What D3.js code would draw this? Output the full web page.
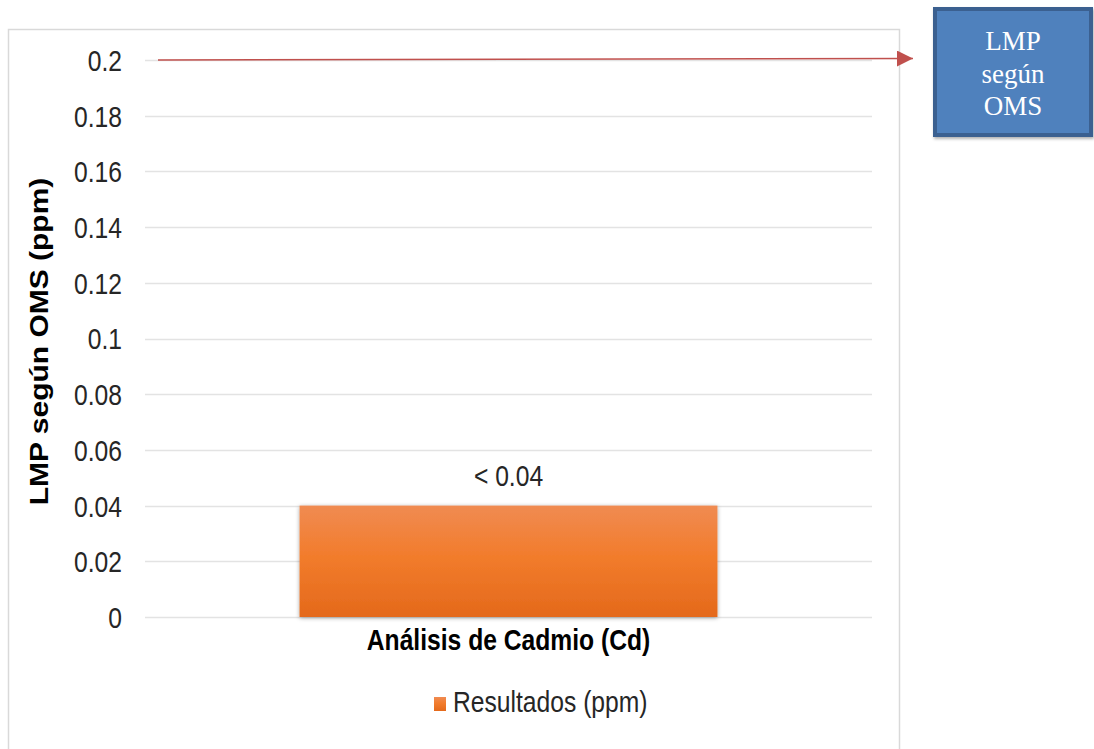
<!DOCTYPE html>
<html>
<head>
<meta charset="utf-8">
<script src="https://cdn.jsdelivr.net/npm/d3@7"></script>
<style>
  html, body { margin: 0; padding: 0; background: #fff; }
  svg { display: block; font-family: "Liberation Sans", Arial, sans-serif; }
</style>
</head>
<body>
<svg id="chart" width="1094" height="749"></svg>
<script>
// Data
const categories = ["Análisis de Cadmio (Cd)"];
const resultValues = [0.04];
const resultLabels = ["< 0.04"];
const limitValue = 0.2;
const limitLabel = ["LMP", "según", "OMS"];
const yTicks = [0, 0.02, 0.04, 0.06, 0.08, 0.1, 0.12, 0.14, 0.16, 0.18, 0.2];
const seriesName = "Resultados (ppm)";
const yTitle = "LMP según OMS (ppm)";

// Text is drawn tall and slightly condensed
const FONT = 29;
const SX = 0.85;

const svg = d3.select("#chart");

// Outer chart frame
svg.append("rect")
  .attr("x", 8.5).attr("y", 29.5)
  .attr("width", 891).attr("height", 740)
  .attr("fill", "#fff")
  .attr("stroke", "#d9d9d9").attr("stroke-width", 1.5);

const plot = { left: 145, right: 872, top: 60, bottom: 617 };

const x = d3.scaleBand()
  .domain(categories)
  .range([plot.left, plot.right])
  .paddingInner(0.27).paddingOuter(0.27);

const y = d3.scaleLinear()
  .domain([0, 0.2])
  .range([plot.bottom, plot.top]);

// Gridlines
svg.append("g")
  .selectAll("line")
  .data(yTicks)
  .join("line")
  .attr("x1", plot.left).attr("x2", plot.right)
  .attr("y1", d => Math.round(y(d)) + 0.5)
  .attr("y2", d => Math.round(y(d)) + 0.5)
  .attr("stroke", "#e3e3e3").attr("stroke-width", 1.5);

// Y axis tick labels
const yAxis = d3.axisLeft(y)
  .tickValues(yTicks)
  .tickFormat(d => String(+d.toFixed(2)))
  .tickSize(0).tickPadding(0);
const gy = svg.append("g")
  .attr("transform", `translate(${plot.left - 23},0)`)
  .call(yAxis);
gy.select(".domain").remove();
gy.selectAll("text")
  .attr("x", 0)
  .attr("font-size", FONT)
  .attr("fill", "#262626")
  .attr("font-family", "'Liberation Sans', Arial, sans-serif")
  .attr("dy", "0.36em")
  .attr("transform", `scale(${SX},1)`);

// Y axis title
svg.append("text")
  .attr("transform", `translate(48, ${(plot.top + plot.bottom) / 2 + 3}) scale(${SX},1) rotate(-90)`)
  .attr("text-anchor", "middle")
  .attr("font-size", 30).attr("font-weight", "bold")
  .attr("fill", "#000")
  .text(yTitle);

// Bar gradient and shadow
const defs = svg.append("defs");
const grad = defs.append("linearGradient")
  .attr("id", "barGrad").attr("x1", 0).attr("y1", 0).attr("x2", 0).attr("y2", 1);
grad.append("stop").attr("offset", "0%").attr("stop-color", "#f08b52");
grad.append("stop").attr("offset", "45%").attr("stop-color", "#f27c2c");
grad.append("stop").attr("offset", "100%").attr("stop-color", "#e4691b");

const shadow = defs.append("filter").attr("id", "barShadow")
  .attr("x", "-5%").attr("y", "-10%").attr("width", "110%").attr("height", "125%");
shadow.append("feDropShadow")
  .attr("dx", 0).attr("dy", 1).attr("stdDeviation", 2)
  .attr("flood-color", "#000").attr("flood-opacity", 0.35);

svg.append("g")
  .selectAll("rect")
  .data(resultValues)
  .join("rect")
  .attr("x", (d, i) => x(categories[i]))
  .attr("y", d => y(d))
  .attr("width", x.bandwidth())
  .attr("height", d => y(0) - y(d))
  .attr("fill", "url(#barGrad)")
  .attr("filter", "url(#barShadow)");

// Value labels
svg.append("g")
  .selectAll("text")
  .data(resultValues)
  .join("text")
  .attr("transform", (d, i) =>
    `translate(${x(categories[i]) + x.bandwidth() / 2},${y(d) - 20}) scale(${SX},1)`)
  .attr("text-anchor", "middle")
  .attr("font-size", FONT).attr("fill", "#262626")
  .text((d, i) => resultLabels[i]);

// Category label
svg.append("g")
  .selectAll("text")
  .data(categories)
  .join("text")
  .attr("transform", d =>
    `translate(${x(d) + x.bandwidth() / 2},${plot.bottom + 33}) scale(${SX},1)`)
  .attr("text-anchor", "middle")
  .attr("font-size", FONT).attr("font-weight", "bold")
  .attr("fill", "#000")
  .text(d => d);

// Legend
const legend = svg.append("g").attr("transform", "translate(434, 697)");
legend.append("rect")
  .attr("width", 12).attr("height", 14)
  .attr("fill", "url(#barGrad)");
legend.append("text")
  .attr("transform", `translate(19,15) scale(${SX},1)`)
  .attr("font-size", FONT).attr("fill", "#262626")
  .text(seriesName);

// Limit arrow
defs.append("marker")
  .attr("id", "arrowHead")
  .attr("viewBox", "0 0 10 10")
  .attr("refX", 10).attr("refY", 5)
  .attr("markerWidth", 16).attr("markerHeight", 16)
  .attr("markerUnits", "userSpaceOnUse")
  .attr("orient", "auto")
  .append("path")
  .attr("d", "M0,0 L10,5 L0,10 Z")
  .attr("fill", "#c0504d");

svg.append("line")
  .attr("x1", 158).attr("y1", y(limitValue))
  .attr("x2", 913).attr("y2", y(limitValue) - 1.5)
  .attr("stroke", "#c0504d").attr("stroke-width", 1.5)
  .attr("marker-end", "url(#arrowHead)");

// Limit callout box
const boxShadow = defs.append("filter").attr("id", "boxShadow")
  .attr("x", "-5%").attr("y", "-5%").attr("width", "115%").attr("height", "115%");
boxShadow.append("feDropShadow")
  .attr("dx", 1).attr("dy", 2).attr("stdDeviation", 1.5)
  .attr("flood-color", "#000").attr("flood-opacity", 0.3);

const box = svg.append("g").attr("transform", "translate(933, 7)");
box.append("rect")
  .attr("x", 2).attr("y", 2)
  .attr("width", 156).attr("height", 126)
  .attr("fill", "#4f81bd")
  .attr("stroke", "#3a6190").attr("stroke-width", 4)
  .attr("filter", "url(#boxShadow)");
box.append("g")
  .selectAll("text")
  .data(limitLabel)
  .join("text")
  .attr("x", 80)
  .attr("y", (d, i) => 43 + i * 32.5)
  .attr("text-anchor", "middle")
  .attr("font-family", "'Liberation Serif', 'Times New Roman', serif")
  .attr("font-size", 27)
  .attr("fill", "#fff")
  .text(d => d);
</script>
</body>
</html>
